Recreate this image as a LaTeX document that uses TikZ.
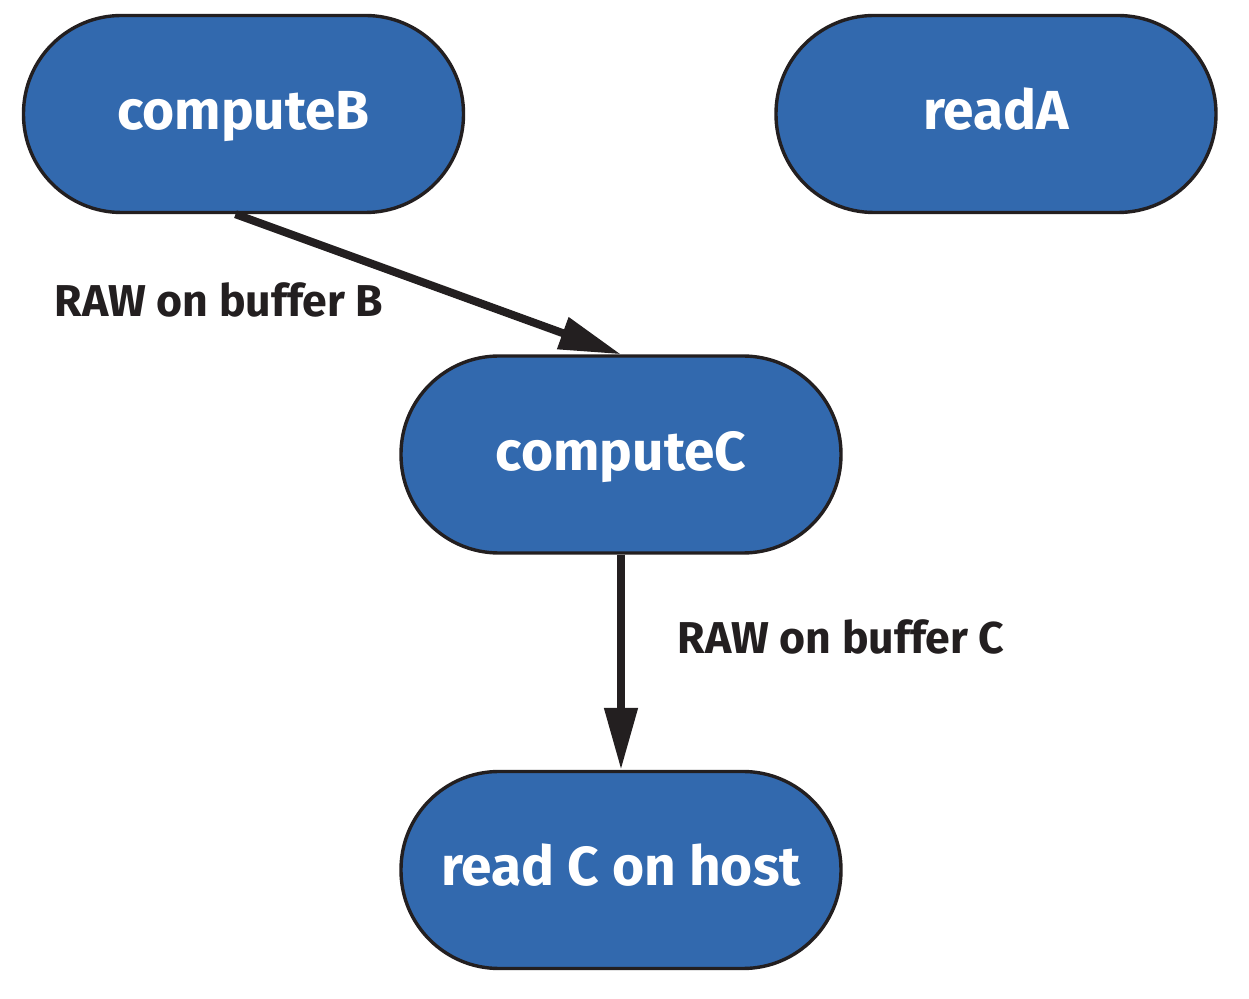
\documentclass[tikz,border=0pt]{standalone}
\usepackage{fontspec}
\setmainfont{Fira Sans}
\usepackage{tikz}
\usetikzlibrary{arrows.meta, positioning}
\definecolor{taskblue}{HTML}{3269AE}
\definecolor{inkdark}{HTML}{231F20}

\begin{document}
\begin{tikzpicture}[x=0.5pt, y=-0.5pt,
	task/.style={draw=inkdark, line width=1.7pt, fill=taskblue, rounded corners=49pt, minimum width=220pt, minimum height=98.5pt, text height=16pt, text depth=0pt, text=white, font=\fontsize{27.5}{32}\selectfont\bfseries},
	dep/.style={draw=inkdark, line width=4pt, -{Triangle[length=31pt, width=16pt]}},
	deplabel/.style={text=inkdark, font=\fontsize{22.3}{26}\selectfont\bfseries}]
	\useasboundingbox (0,0) rectangle (1249,999);
	% tasks
	\node[task] (computeB) at (243.5,114) {computeB};
	\node[task] (readA) at (996,114) {readA};
	\node[task] (computeC) at (621,454.5) {computeC};
	\node[task] (readC) at (621,870) {read C on host};
	% dependencies
	\draw[dep] ([xshift=-4pt]computeB.south) -- (computeC.north);
	\draw[dep] (computeC.south) -- (readC.north);
	\node[deplabel] (labB) at (219,300) {RAW on buffer B};
	\node[deplabel] (labC) at (841,637) {RAW on buffer C};
\end{tikzpicture}
\end{document}
